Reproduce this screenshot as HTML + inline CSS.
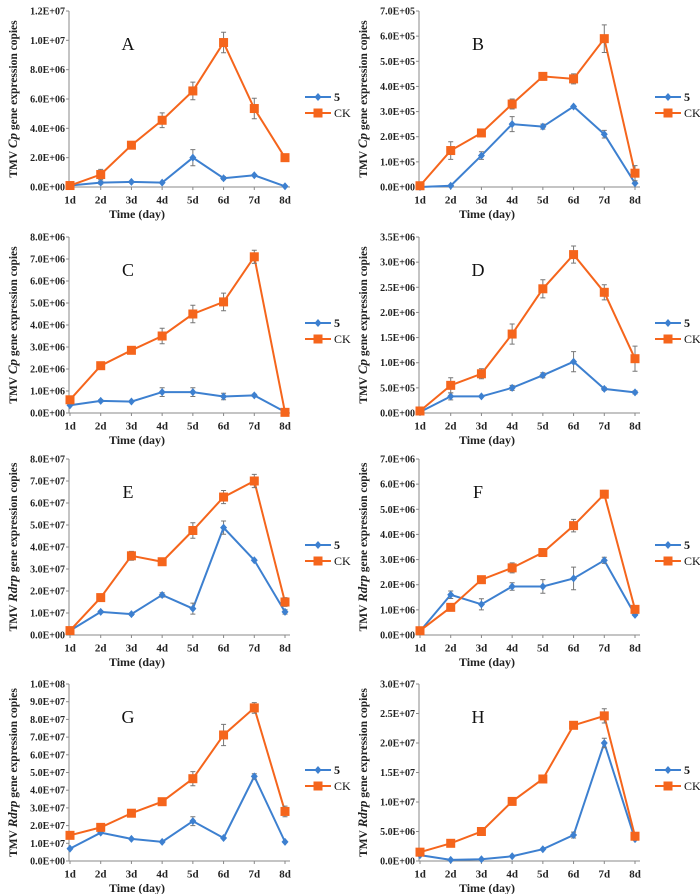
<!DOCTYPE html>
<html><head><meta charset="utf-8"><style>
html,body{margin:0;padding:0;background:#fff;}
svg{display:block;font-family:"Liberation Serif",serif;}
</style></head><body>
<svg id="chart" width="700" height="894" viewBox="0 0 700 894" xmlns="http://www.w3.org/2000/svg"></svg>
<script>
const categories = ["1d","2d","3d","4d","5d","6d","7d","8d"];
const panelLetters = ["A","B","C","D","E","F","G","H"];
const geneNames = ["Cp","Cp","Cp","Cp","Rdrp","Rdrp","Rdrp","Rdrp"];
const yMaxes = [1.2e7,7e5,8e6,3.5e6,8e7,7e6,1e8,3e7];
const yStepsVals = [2e6,1e5,1e6,5e5,1e7,1e6,1e7,5e6];
const s5A = [0.1e6,0.3e6,0.35e6,0.3e6,2.0e6,0.6e6,0.8e6,0.05e6];
const ckA = [0.1e6,0.85e6,2.85e6,4.55e6,6.55e6,9.85e6,5.35e6,2.0e6];
const e5A = [0,0.1e6,0,0,0.55e6,0.1e6,0.05e6,0];
const eckA = [0,0.35e6,0.1e6,0.5e6,0.6e6,0.7e6,0.7e6,0.2e6];
const s5B = [0,0.05e5,1.25e5,2.5e5,2.4e5,3.2e5,2.1e5,0.15e5];
const ckB = [0.05e5,1.45e5,2.15e5,3.3e5,4.4e5,4.3e5,5.9e5,0.55e5];
const e5B = [0,0,0.15e5,0.3e5,0.1e5,0,0.15e5,0];
const eckB = [0,0.35e5,0.1e5,0.2e5,0.15e5,0.2e5,0.55e5,0.3e5];
const s5C = [0.35e6,0.55e6,0.52e6,0.95e6,0.95e6,0.75e6,0.8e6,0.05e6];
const ckC = [0.6e6,2.15e6,2.85e6,3.5e6,4.5e6,5.05e6,7.1e6,0.03e6];
const e5C = [0,0.05e6,0,0.2e6,0.2e6,0.15e6,0.05e6,0];
const eckC = [0,0.12e6,0.05e6,0.35e6,0.4e6,0.4e6,0.3e6,0];
const s5D = [0.02e6,0.33e6,0.33e6,0.5e6,0.75e6,1.02e6,0.48e6,0.41e6];
const ckD = [0.04e6,0.55e6,0.78e6,1.57e6,2.47e6,3.15e6,2.4e6,1.08e6];
const e5D = [0,0.07e6,0,0.05e6,0.05e6,0.2e6,0.03e6,0.03e6];
const eckD = [0,0.15e6,0.1e6,0.2e6,0.18e6,0.17e6,0.15e6,0.25e6];
const s5E = [0.2e7,1.05e7,0.95e7,1.82e7,1.2e7,4.88e7,3.4e7,1.05e7];
const ckE = [0.2e7,1.7e7,3.6e7,3.33e7,4.75e7,6.27e7,7.0e7,1.5e7];
const e5E = [0,0.05e7,0.05e7,0.1e7,0.25e7,0.3e7,0,0.1e7];
const eckE = [0,0.05e7,0.2e7,0.15e7,0.35e7,0.3e7,0.3e7,0.2e7];
const s5F = [0.15e6,1.6e6,1.22e6,1.93e6,1.93e6,2.25e6,2.97e6,0.8e6];
const ckF = [0.17e6,1.1e6,2.2e6,2.67e6,3.28e6,4.35e6,5.6e6,1.02e6];
const e5F = [0,0.15e6,0.22e6,0.15e6,0.27e6,0.45e6,0.12e6,0];
const eckF = [0,0,0.1e6,0.2e6,0,0.25e6,0.15e6,0];
const s5G = [0.7e7,1.6e7,1.25e7,1.08e7,2.25e7,1.3e7,4.78e7,1.08e7];
const ckG = [1.45e7,1.9e7,2.7e7,3.35e7,4.65e7,7.12e7,8.65e7,2.8e7];
const e5G = [0,0,0,0,0.25e7,0,0.15e7,0];
const eckG = [0,0,0,0.15e7,0.4e7,0.6e7,0.3e7,0.3e7];
const s5H = [0.1e7,0.02e7,0.03e7,0.08e7,0.2e7,0.44e7,2.0e7,0.37e7];
const ckH = [0.15e7,0.3e7,0.5e7,1.01e7,1.39e7,2.3e7,2.46e7,0.42e7];
const e5H = [0,0,0,0,0,0.05e7,0.08e7,0];
const eckH = [0,0,0,0,0,0.05e7,0.12e7,0];
const series5 = [s5A,s5B,s5C,s5D,s5E,s5F,s5G,s5H];
const seriesCK = [ckA,ckB,ckC,ckD,ckE,ckF,ckG,ckH];
const err5 = [e5A,e5B,e5C,e5D,e5E,e5F,e5G,e5H];
const errCK = [eckA,eckB,eckC,eckD,eckE,eckF,eckG,eckH];
const legendLabels = ["5","CK"];

const NS="http://www.w3.org/2000/svg";
const svg=document.getElementById('chart');
const BLUE="#3d80d0", ORANGE="#f5651c";
function mk(tag,attrs,parent){const e=document.createElementNS(NS,tag);for(const k in attrs)e.setAttribute(k,attrs[k]);(parent||svg).appendChild(e);return e;}
function fmt(v){if(v===0)return "0.0E+00";let ex=Math.floor(Math.log10(v)+1e-9);let m=v/Math.pow(10,ex);return m.toFixed(1)+"E+"+(ex<10?"0":"")+ex;}
const rows=[[11,187],[237,413],[459,635],[684,861]];
for(let p=0;p<8;p++){
  const col=p%2,row=Math.floor(p/2);
  const ox=col*350;
  const top=rows[row][0],bot=rows[row][1];
  const x1=ox+70,x8=ox+285,axX=ox+69;
  const xs=i=>x1+(x8-x1)*i/(categories.length-1);
  const ymax=yMaxes[p];
  const ys=v=>bot-(bot-top)*v/ymax;
  const g=mk('g',{});
  
  
  const ya=mk('line',{x1:axX,y1:top,x2:axX,y2:bot,stroke:'#888','stroke-width':1},g);
  
  const xa=mk('line',{x1:axX,y1:bot,x2:ox+290,y2:bot,stroke:'#888','stroke-width':1},g);
  
  const nT=Math.round(ymax/yStepsVals[p]);
  for(let t=0;t<=nT;t++){
    const v=t*yStepsVals[p],y=ys(v);
    mk('line',{x1:axX-3,y1:y,x2:axX,y2:y,stroke:'#888'},g);
    const tx=mk('text',{x:axX-4,y:y+3.5,'text-anchor':'end','font-size':10,'font-weight':'bold',fill:'#222'},g);
    tx.textContent=fmt(v);
    
  }
  categories.forEach((c,i)=>{
    const x=xs(i);
    mk('line',{x1:x,y1:bot,x2:x,y2:bot+3,stroke:'#888'},g);
    const tx=mk('text',{x:x,y:bot+16.5,'text-anchor':'middle','font-size':11,'font-weight':'bold',fill:'#222'},g);
    tx.textContent=c;
    
  });
  const xt=mk('text',{x:ox+137,y:bot+31,'text-anchor':'middle','font-size':12,'font-weight':'bold',fill:'#222'},g);
  xt.textContent="Time (day)";
  
  const cy=(top+bot)/2;
  const yt=mk('text',{x:0,y:0,transform:`translate(${ox+17},${cy}) rotate(-90)`,'text-anchor':'middle','font-size':11.5,'font-weight':'bold',fill:'#222'},g);
  
  const t1=mk('tspan',{},yt);t1.textContent="TMV ";
  const t2=mk('tspan',{'font-style':'italic','font-size':13},yt);t2.textContent=geneNames[p];
  const t3=mk('tspan',{},yt);t3.textContent=" gene expression copies";
  const pl=mk('text',{x:ox+128,y:top+39,'text-anchor':'middle','font-size':18,fill:'#111'},g);
  pl.textContent=panelLetters[p];
  
  const sets=[[series5[p],err5[p],BLUE,'5'],[seriesCK[p],errCK[p],ORANGE,'CK']];
  sets.forEach(([vals,errs,color,nm])=>{
    const pts=vals.map((v,i)=>xs(i)+','+ys(v)).join(' ');
    const line=mk('polyline',{points:pts,fill:'none',stroke:color,'stroke-width':2},g);
    
    vals.forEach((v,i)=>{
      const x=xs(i),y=ys(v);
      if(errs[i]>0){
        const y1=ys(v+errs[i]),y2=ys(Math.max(0,v-errs[i]));
        const eb=mk('path',{d:`M${x},${y1}V${y2}M${x-2.5},${y1}H${x+2.5}M${x-2.5},${y2}H${x+2.5}`,stroke:'#777','stroke-width':1,fill:'none'},g);
        
      }
      let m;
      if(nm==='CK') m=mk('rect',{x:x-4.5,y:y-4.5,width:9,height:9,fill:color},g);
      else m=mk('path',{d:`M${x},${y-4}L${x+3.5},${y}L${x},${y+4}L${x-3.5},${y}Z`,fill:color},g);
      
      
    });
  });
  legendLabels.forEach((lb,k)=>{
    const ly=top+86+k*16;
    const color=k===0?BLUE:ORANGE;
    const le=mk('g',{},g);
    
    
    mk('line',{x1:ox+305,y1:ly,x2:ox+331,y2:ly,stroke:color,'stroke-width':2},le);
    if(k===1) mk('rect',{x:ox+313.5,y:ly-4.5,width:9,height:9,fill:color},le);
    else mk('path',{d:`M${ox+318},${ly-4}L${ox+321.5},${ly}L${ox+318},${ly+4}L${ox+314.5},${ly}Z`,fill:color},le);
    const lt=mk('text',{x:ox+334,y:ly+4,'font-size':12,'font-weight':k===0?'bold':'normal',fill:'#111'},le);
    lt.textContent=lb;
  });
}
</script>
</body></html>
